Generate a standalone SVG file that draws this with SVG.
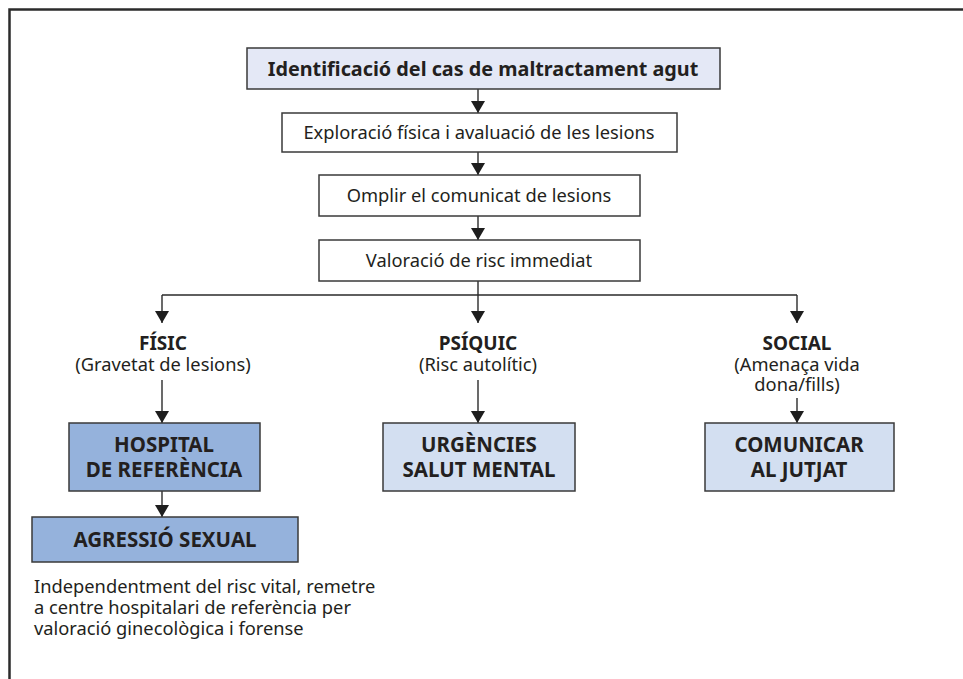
<svg xmlns="http://www.w3.org/2000/svg" width="963" height="679" viewBox="0 0 963 679">
  <defs>
    <style>
      .frame { fill: none; stroke: #2b2b2b; stroke-width: 2.5; }
      .box { stroke: #3a3a3a; stroke-width: 1.5; }
      .plain { fill: #ffffff; }
      .lav { fill: #e4e8f6; }
      .mid { fill: #95b2dc; }
      .pale { fill: #d3dff1; }
      .conn { fill: none; stroke: #2b2b2b; stroke-width: 1.4; }
      text { font-family: "Noto Sans", "Open Sans", sans-serif; fill: #231f20; }
      .b { font-weight: bold; }
      .c { text-anchor: middle; }
      .r { font-size: 18.3px; }
      .h { font-size: 19px; }
      .k { font-size: 20.5px; }
    </style>
    <marker id="arrow" viewBox="0 0 12 14" refX="12" refY="7" markerWidth="12" markerHeight="14" markerUnits="userSpaceOnUse" orient="auto">
      <path d="M0,0 L12,7 L0,14 Z" fill="#1e1e1e"/>
    </marker>
  </defs>

  <rect width="963" height="679" fill="#ffffff"/>
  <!-- outer frame: top and left edges only -->
  <path class="frame" d="M9.5,679 V9.5 H963"/>

  <g id="connectors">
    <path class="conn" marker-end="url(#arrow)" d="M478,89 V113"/>
    <path class="conn" marker-end="url(#arrow)" d="M478,152 V175"/>
    <path class="conn" marker-end="url(#arrow)" d="M478,216 V240"/>
    <path class="conn" d="M478,281 V295 M162,295 H797"/>
    <path class="conn" marker-end="url(#arrow)" d="M162,295 V323"/>
    <path class="conn" marker-end="url(#arrow)" d="M478,295 V323"/>
    <path class="conn" marker-end="url(#arrow)" d="M797,295 V323"/>
    <path class="conn" marker-end="url(#arrow)" d="M162,380 V423"/>
    <path class="conn" marker-end="url(#arrow)" d="M478,380 V423"/>
    <path class="conn" marker-end="url(#arrow)" d="M797,398 V423"/>
    <path class="conn" marker-end="url(#arrow)" d="M162,491 V517"/>
  </g>

  <g id="identificacio">
    <rect class="box lav" x="247" y="48" width="473" height="41"/>
    <text class="b c" x="483" y="76" font-size="19.8">Identificació del cas de maltractament agut</text>
  </g>

  <g id="exploracio">
    <rect class="box plain" x="282" y="113" width="395" height="39"/>
    <text class="c r" x="479" y="139">Exploració física i avaluació de les lesions</text>
  </g>

  <g id="omplir">
    <rect class="box plain" x="319" y="175" width="321" height="41"/>
    <text class="c r" x="479" y="202">Omplir el comunicat de lesions</text>
  </g>

  <g id="valoracio">
    <rect class="box plain" x="319" y="240" width="321" height="41"/>
    <text class="c r" x="479" y="267">Valoració de risc immediat</text>
  </g>

  <g id="fisic">
    <text class="b c h" x="163" y="350">FÍSIC</text>
    <text class="c r" x="163" y="371">(Gravetat de lesions)</text>
  </g>

  <g id="psiquic">
    <text class="b c h" x="478" y="350">PSÍQUIC</text>
    <text class="c r" x="478" y="371">(Risc autolític)</text>
  </g>

  <g id="social">
    <text class="b c h" x="797" y="350">SOCIAL</text>
    <text class="c r" x="797" y="371">(Amenaça vida</text>
    <text class="c r" x="797" y="391">dona/fills)</text>
  </g>

  <g id="hospital">
    <rect class="box mid" x="69" y="423" width="191" height="68"/>
    <text class="b c k" x="164" y="452">HOSPITAL</text>
    <text class="b c k" x="164" y="477">DE REFERÈNCIA</text>
  </g>

  <g id="urgencies">
    <rect class="box pale" x="383" y="423" width="192" height="68"/>
    <text class="b c k" x="479" y="452">URGÈNCIES</text>
    <text class="b c k" x="479" y="477">SALUT MENTAL</text>
  </g>

  <g id="comunicar">
    <rect class="box pale" x="705" y="423" width="189" height="68"/>
    <text class="b c k" x="799" y="452">COMUNICAR</text>
    <text class="b c k" x="799" y="477">AL JUTJAT</text>
  </g>

  <g id="agressio">
    <rect class="box mid" x="32" y="517" width="266" height="45"/>
    <text class="b c k" x="165" y="547">AGRESSIÓ SEXUAL</text>
  </g>

  <g id="nota">
    <text class="r" x="34" y="593">Independentment del risc vital, remetre</text>
    <text class="r" x="34" y="614">a centre hospitalari de referència per</text>
    <text class="r" x="34" y="635">valoració ginecològica i forense</text>
  </g>
</svg>
